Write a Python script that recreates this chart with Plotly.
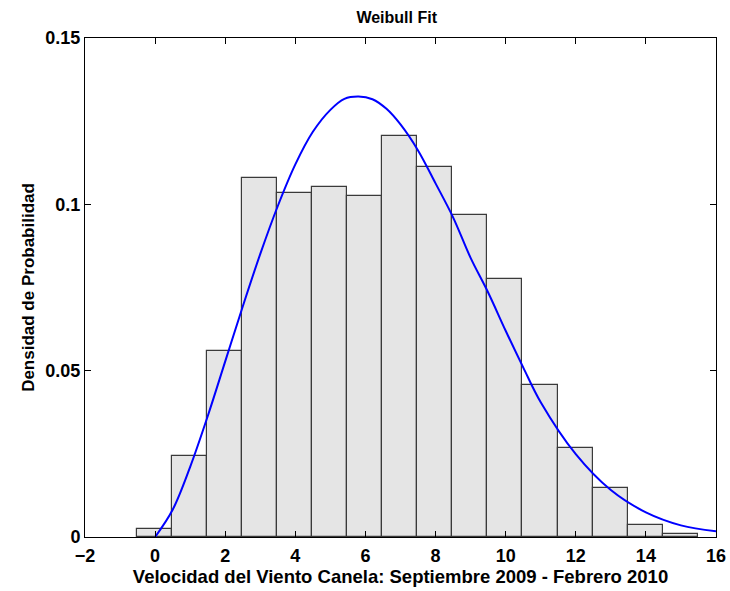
import plotly.graph_objects as go

# Histogram (density) of wind speed
bin_centers = [-0.02, 0.98, 1.98, 2.98, 3.98, 4.98, 5.98, 6.98, 7.98, 8.98,
               9.98, 10.98, 11.98, 12.98, 13.98, 14.98]
bin_width = 1.0
density = [0.0025, 0.0245, 0.0559, 0.1079, 0.1034, 0.1051, 0.1026, 0.1205,
           0.1113, 0.0968, 0.0775, 0.0458, 0.0268, 0.0146, 0.0035, 0.0008]

# Weibull fit curve
fit_x = [0.0, 0.5, 1.0, 1.5, 2.0, 2.5, 3.0, 3.5, 4.0, 4.5, 5.0, 5.4, 5.8, 6.2,
         6.6, 7.0, 7.5, 8.0, 8.5, 9.0, 9.5, 10.0, 10.5, 11.0, 12.0, 13.0, 14.0,
         15.0, 16.0]
fit_y = [0.0, 0.0082, 0.0211, 0.0363, 0.0528, 0.0693, 0.0851, 0.0995, 0.1120,
         0.1218, 0.1284, 0.1317, 0.1324, 0.1316, 0.1287, 0.1240, 0.1162,
         0.1063, 0.0961, 0.0839, 0.0735, 0.0620, 0.0510, 0.0405, 0.0249,
         0.0141, 0.0074, 0.0035, 0.0017]

x_ticks = [-2, 0, 2, 4, 6, 8, 10, 12, 14, 16]
y_ticks = [0, 0.05, 0.1, 0.15]
y_tick_labels = ["0", "0.05", "0.1", "0.15"]

font_family = "Liberation Sans, Arial, sans-serif"

fig = go.Figure()
fig.add_trace(go.Bar(
    x=bin_centers, y=density, width=[bin_width] * len(bin_centers),
    marker=dict(color="#e5e5e5", line=dict(color="#3a3a3a", width=1.2)),
    showlegend=False,
))
fig.add_trace(go.Scatter(
    x=fit_x, y=fit_y, mode="lines",
    line=dict(color="#0000ff", width=2, shape="spline", smoothing=1.0),
    showlegend=False,
))

axis_common = dict(
    showgrid=False, zeroline=False, showline=True, linecolor="black",
    linewidth=1, mirror="ticks", ticks="inside", ticklen=6,
    tickcolor="black", tickwidth=1, automargin=False,
    tickfont=dict(family=font_family, size=18, color="black", weight="bold"),
)

fig.update_layout(
    width=730, height=591,
    margin=dict(l=85, r=14, t=38, b=54),
    paper_bgcolor="white", plot_bgcolor="white",
    bargap=0,
    title=dict(text="Weibull Fit", x=0.494, xanchor="center", xref="paper",
               y=0.97, yanchor="middle",
               font=dict(family=font_family, size=16, color="black",
                         weight="bold")),
    xaxis=dict(range=[-2, 16], tickvals=x_ticks, ticklabelstandoff=2,
               title=dict(text="Velocidad del Viento Canela: Septiembre 2009 - Febrero 2010",
                          font=dict(family=font_family, size=18.5, color="black",
                                    weight="bold"), standoff=0),
               **axis_common),
    yaxis=dict(range=[0, 0.15], tickvals=y_ticks, ticktext=y_tick_labels,
               title=dict(text="Densidad de Probabilidad",
                          font=dict(family=font_family, size=17, color="black",
                                    weight="bold"), standoff=6),
               **axis_common),
)

fig.write_html("out.html")
